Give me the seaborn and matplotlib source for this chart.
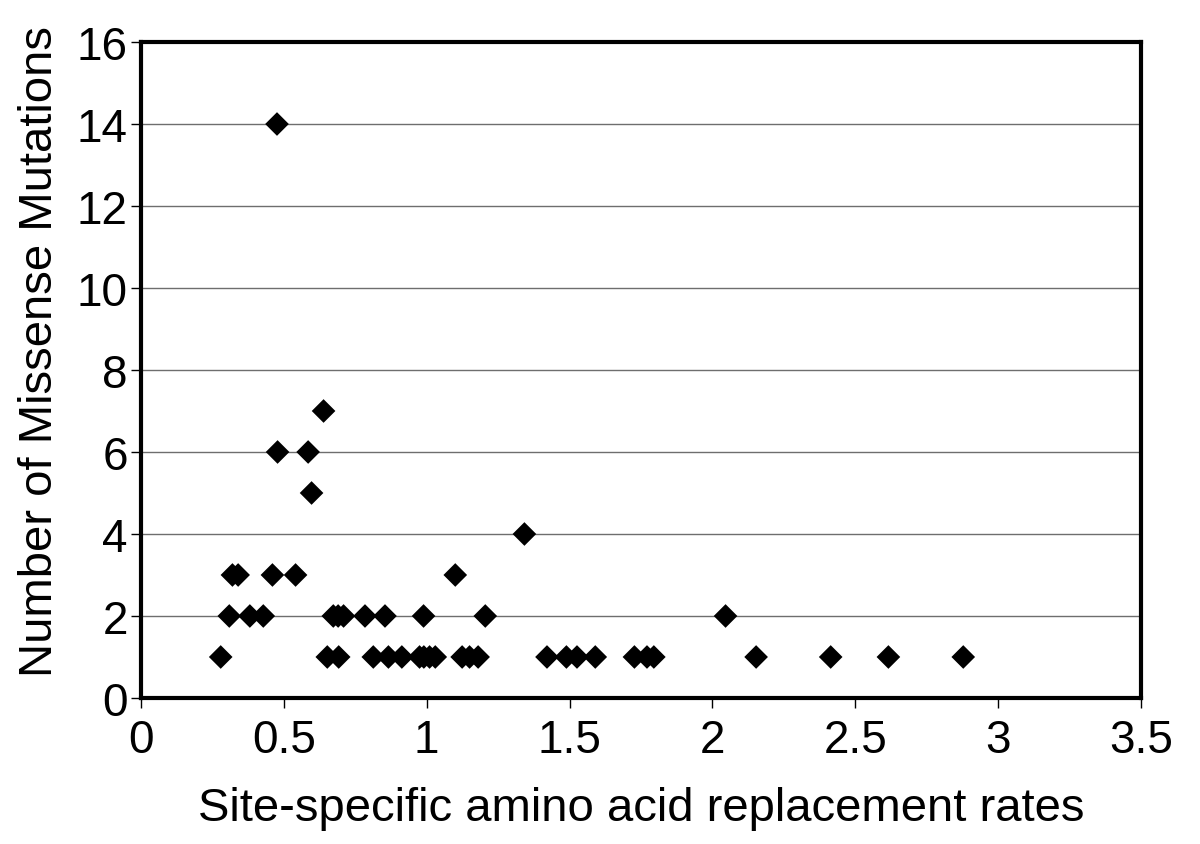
import matplotlib
matplotlib.use("Agg")
import matplotlib.pyplot as plt
import seaborn as sns
import pandas as pd

# Values
rates = [0.476,
         0.639,
         0.478, 0.585,
         0.597,
         1.342,
         0.320, 0.340, 0.460, 0.541, 1.100,
         0.309, 0.381, 0.428, 0.673, 0.690, 0.709, 0.784, 0.854, 0.989, 1.205, 2.046,
         0.279, 0.652, 0.692, 0.813, 0.866, 0.913, 0.975, 0.990, 1.010, 1.030,
         1.124, 1.150, 1.180, 1.421, 1.489, 1.526, 1.590, 1.727, 1.771, 1.795,
         2.153, 2.414, 2.616, 2.878]
mutations = [14,
             7,
             6, 6,
             5,
             4,
             3, 3, 3, 3, 3,
             2, 2, 2, 2, 2, 2, 2, 2, 2, 2, 2,
             1, 1, 1, 1, 1, 1, 1, 1, 1, 1,
             1, 1, 1, 1, 1, 1, 1, 1, 1, 1,
             1, 1, 1, 1]
x_ticks = [0, 0.5, 1, 1.5, 2, 2.5, 3, 3.5]
x_tick_labels = ["0", "0.5", "1", "1.5", "2", "2.5", "3", "3.5"]
y_ticks = [0, 2, 4, 6, 8, 10, 12, 14, 16]

df = pd.DataFrame({"rate": rates, "mutations": mutations})

sns.set_style("white")
plt.rcParams["font.family"] = ["Liberation Sans", "DejaVu Sans"]
plt.rcParams["text.color"] = "black"
plt.rcParams["axes.labelcolor"] = "black"
plt.rcParams["xtick.color"] = "black"
plt.rcParams["ytick.color"] = "black"

fig = plt.figure(figsize=(12, 8.45), dpi=100)
ax = fig.add_axes([0.1175, 0.1728, 0.8333, 0.7763])

sns.scatterplot(data=df, x="rate", y="mutations", marker="D", s=145,
                color="black", edgecolor="none", ax=ax, zorder=3)

ax.set_xlim(0, 3.5)
ax.set_ylim(0, 16)
ax.set_xticks(x_ticks)
ax.set_xticklabels(x_tick_labels)
ax.set_yticks(y_ticks)

# horizontal gridlines only
ax.grid(axis="y", color="#6e6e6e", linewidth=1)
ax.grid(axis="x", visible=False)
ax.set_axisbelow(True)

for side in ["top", "right", "bottom", "left"]:
    ax.spines[side].set_visible(True)
    ax.spines[side].set_color("black")
    ax.spines[side].set_linewidth(3)

ax.tick_params(axis="both", direction="out", length=7.5, width=1, color="black",
               labelsize=33, bottom=True, left=True)
ax.tick_params(axis="x", pad=7)
ax.tick_params(axis="y", pad=2)

ax.set_xlabel("Site-specific amino acid replacement rates", fontsize=34, labelpad=17)
ax.set_ylabel("Number of Missense Mutations", fontsize=34, labelpad=11)
ax.yaxis.label.set_y(0.53)

fig.savefig("out.png", dpi=100)
